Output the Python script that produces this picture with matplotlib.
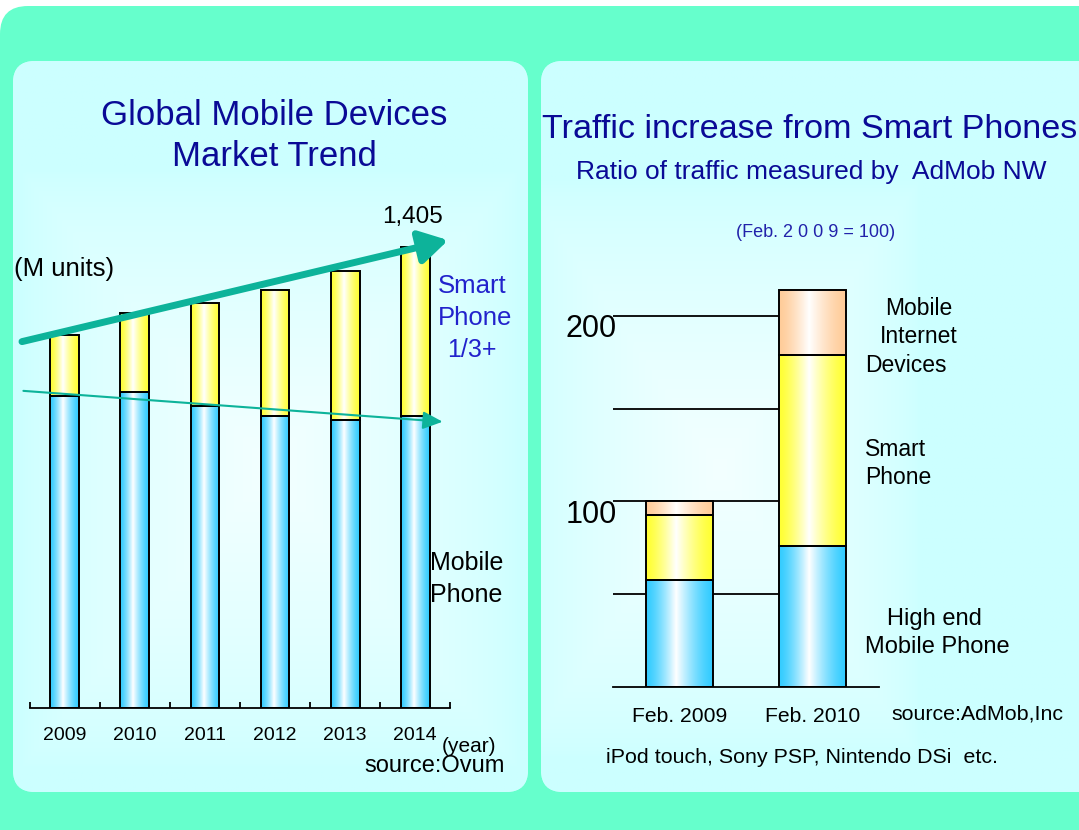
import numpy as np
import matplotlib
matplotlib.use('Agg')
import matplotlib.pyplot as plt
from matplotlib.patches import FancyBboxPatch
from matplotlib.colors import to_rgb

plt.rcParams['font.family'] = ['Liberation Sans', 'DejaVu Sans']

# left chart: global mobile devices (M units)
years = ['2009', '2010', '2011', '2012', '2013', '2014']
mobile_phone = [951, 962, 921, 889, 877, 889]
smart_phone = [185, 242, 312, 384, 453, 516]

# right chart: traffic ratio (Feb. 2009 = 100)
months = ['Feb. 2009', 'Feb. 2010']
high_end = [58, 76]
smart = [35, 103]
mid = [7, 35]
grid_vals = [50, 100, 150, 200]
label_vals = [100, 200]

NAVY = '#0A0A96'
BLUE = '#2222CC'
TEAL = '#0DB39A'
C_BLUE = '#33CCFF'
C_YEL = '#FFFF33'
C_PEACH = '#FFCC99'


def grad_fill(ax, bars, color):
    # white-centred horizontal gradient inside each bar
    t = np.linspace(0, 1, 80)
    w = np.where(t < 0.45, t / 0.45, (1 - t) / 0.55) ** 1.4
    c = np.array(to_rgb(color))
    row = c[None, :] * (1 - w[:, None]) + w[:, None]
    for b in bars:
        x0, y0 = b.get_x(), b.get_y()
        ax.imshow(row[None, :, :], extent=[x0, x0 + b.get_width(), y0, y0 + b.get_height()],
                  aspect='auto', interpolation='bilinear', zorder=2)


def panel_glow(ax, box, cx, cy, hw, hh):
    x0, y0, w, h = box
    xs = np.linspace(x0, x0 + w, 200)
    ys = np.linspace(y0, y0 + h, 200)
    X, Y = np.meshgrid(xs, ys)
    d = np.maximum(np.abs(X - cx) / hw, np.abs(Y - cy) / hh)
    k = np.clip(1 - d, 0, 1) ** 0.7
    edge = np.array(to_rgb('#CCFFFF'))
    mid_c = np.array(to_rgb('#F3FFFF'))
    img = edge * (1 - k[..., None]) + mid_c * k[..., None]
    p = FancyBboxPatch((x0, y0), w, h, boxstyle='round,pad=0,rounding_size=22',
                       fc='#CCFFFF', ec='none', zorder=1)
    ax.add_patch(p)
    im = ax.imshow(img, extent=[x0, x0 + w, y0 + h, y0], origin='upper',
                   aspect='auto', zorder=1.5)
    im.set_clip_path(p)


fig = plt.figure(figsize=(10.79, 8.30), dpi=100)
fig.patch.set_facecolor('white')

# background in pixel coordinates
bg = fig.add_axes([0, 0, 1, 1])
bg.set_xlim(0, 1079)
bg.set_ylim(830, 0)
bg.axis('off')
bg.add_patch(FancyBboxPatch((0, 6), 1120, 870, boxstyle='round,pad=0,rounding_size=28',
                            fc='#66FFCC', ec='none', zorder=0))
panel_glow(bg, (13, 61, 515, 731), 270, 470, 250, 300)
panel_glow(bg, (541, 61, 580, 731), 720, 470, 200, 290)
bg.set_xlim(0, 1079)
bg.set_ylim(830, 0)


def txt(x, y, s, size, color='black', ha='left'):
    bg.text(x, y, s, fontsize=size, color=color, ha=ha, va='baseline', zorder=5)


# ---------------- left chart ----------------
ax1 = fig.add_axes([29.7 / 1079, 1 - 708 / 830, 420.6 / 1079, 508 / 830])
ax1.patch.set_alpha(0)
x = np.arange(len(years))
totals = [m + s for m, s in zip(mobile_phone, smart_phone)]
b1 = ax1.bar(x, mobile_phone, width=0.41, fc='none', ec='black', lw=1.4, zorder=3)
b2 = ax1.bar(x, smart_phone, bottom=mobile_phone, width=0.41, fc='none', ec='black', lw=1.4, zorder=3)
grad_fill(ax1, b1, C_BLUE)
grad_fill(ax1, b2, C_YEL)

ax1.annotate('', xy=(x[-1] + 0.47, totals[-1] + 20), xytext=(x[0] - 0.61, totals[0] - 20),
             arrowprops=dict(arrowstyle='-|>,head_length=0.85,head_width=0.5', mutation_scale=20,
                             lw=5, color=TEAL, shrinkA=0, shrinkB=0),
             annotation_clip=False, zorder=6)
ax1.annotate('', xy=(x[-1] + 0.39, mobile_phone[-1] - 17), xytext=(x[0] - 0.59, mobile_phone[0] + 15),
             arrowprops=dict(arrowstyle='-|>,head_length=0.6,head_width=0.27', mutation_scale=20,
                             lw=1.5, color=TEAL, shrinkA=0, shrinkB=0),
             annotation_clip=False, zorder=6)
ax1.annotate(f'{totals[-1]:,}', xy=(x[-1], totals[-1]), xytext=(-2, 17), textcoords='offset points',
             ha='center', va='baseline', fontsize=17.5)

for s in ['top', 'left', 'right']:
    ax1.spines[s].set_visible(False)
ax1.spines['bottom'].set_linewidth(1.3)
ax1.set_xticks(x, years)
ax1.set_xticks(np.arange(-0.5, len(years)), minor=True)
ax1.tick_params(axis='x', which='major', length=0, pad=14, labelsize=14)
ax1.tick_params(axis='x', which='minor', direction='in', length=4.5, width=1.3)
ax1.set_yticks([])
ax1.set_xlim(-0.5, len(years) - 0.5)
ax1.set_ylim(0, 508 * 3.046)

txt(274, 125, 'Global Mobile Devices', 25, NAVY, 'center')
txt(274, 166, 'Market Trend', 25, NAVY, 'center')
txt(13.5, 276, '(M units)', 18.5)
txt(472, 293.3, 'Smart', 18.5, BLUE, 'center')
txt(475, 325, 'Phone', 18.5, BLUE, 'center')
txt(472, 356.7, '1/3+', 18, BLUE, 'center')
txt(430, 570, 'Mobile', 18)
txt(430, 601.7, 'Phone', 18)
txt(442, 751.7, '(year)', 15)
txt(505, 771.5, 'source:Ovum', 17, ha='right')

# ---------------- right chart ----------------
ax2 = fig.add_axes([613 / 1079, 1 - 687.3 / 830, 265.8 / 1079, 437.3 / 830])
ax2.patch.set_alpha(0)
xr = np.arange(len(months))
bottom2 = [a + b for a, b in zip(high_end, smart)]
ax2.hlines(grid_vals, -0.5, xr[-1], colors='black', lw=1.3, zorder=1)
r1 = ax2.bar(xr, high_end, width=0.5, fc='none', ec='black', lw=1.4, zorder=3)
r2 = ax2.bar(xr, smart, bottom=high_end, width=0.5, fc='none', ec='black', lw=1.4, zorder=3)
r3 = ax2.bar(xr, mid, bottom=bottom2, width=0.5, fc='none', ec='black', lw=1.4, zorder=3)
grad_fill(ax2, r1, C_BLUE)
grad_fill(ax2, r2, C_YEL)
grad_fill(ax2, r3, C_PEACH)

for v in label_vals:
    ax2.annotate(str(v), xy=(0, v), xycoords=('axes fraction', 'data'), xytext=(2.5, -15.3),
                 textcoords='offset points', ha='right', va='baseline', fontsize=22)

for s in ['top', 'left', 'right']:
    ax2.spines[s].set_visible(False)
ax2.spines['bottom'].set_linewidth(1.3)
ax2.set_xticks(xr, months)
ax2.tick_params(axis='x', length=0, pad=14.5, labelsize=15.2)
ax2.set_yticks([])
ax2.set_xlim(-0.5, 1.5)
ax2.set_ylim(0, 437.3 / 1.858)

txt(542, 138.3, 'Traffic increase from Smart Phones', 24.6, NAVY)
txt(811.5, 179.3, 'Ratio of traffic measured by  AdMob NW', 19, NAVY, 'center')
txt(816, 237.3, '(Feb. 2 0 0 9 = 100)', 13, '#2222AA', 'center')
txt(918.5, 315, 'Mobile', 16.5, ha='center')
txt(918.8, 343.3, 'Internet', 16.5, ha='center')
txt(865.2, 371.7, 'Devices', 16.5)
txt(865.2, 455.7, 'Smart', 16.5)
txt(865.2, 484, 'Phone', 16.5)
txt(887.3, 625, 'High end', 17)
txt(865.2, 653.3, 'Mobile Phone', 17)
txt(891.7, 719, 'source:AdMob,Inc', 15.4)
txt(606.3, 763.3, 'iPod touch, Sony PSP, Nintendo DSi  etc.', 15.4)

fig.savefig('out.png', dpi=100)
